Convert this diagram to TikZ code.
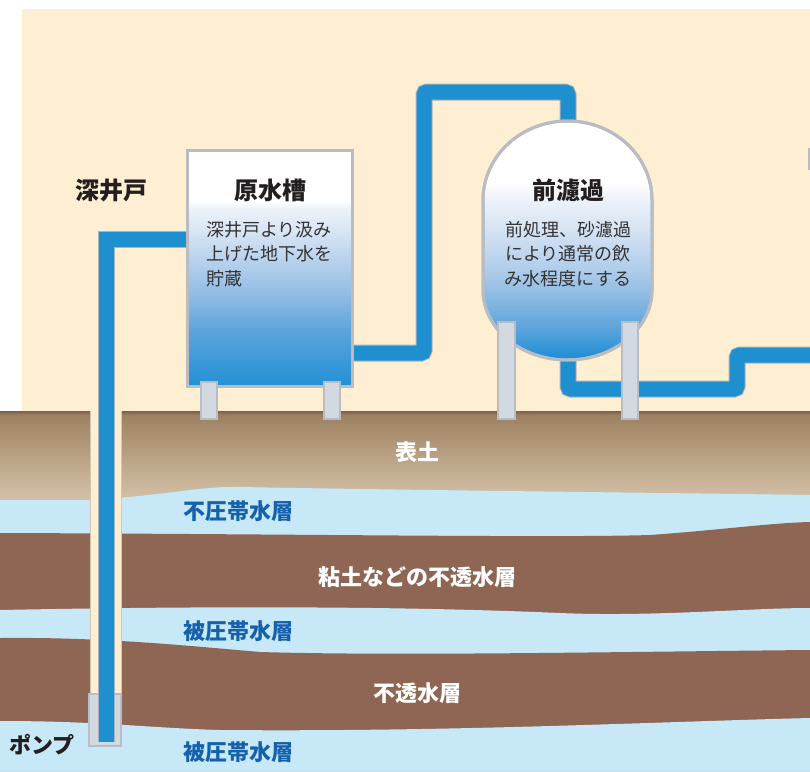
\documentclass[tikz,border=0pt]{standalone}
\usepackage{fontspec}
\newfontfamily\jp{Noto Sans CJK JP}

% palette
\definecolor{sky}{HTML}{FEEFD3}
\definecolor{aqua}{HTML}{C6E8F7}
\definecolor{clay}{HTML}{8F6654}
\definecolor{pipeblue}{HTML}{1E90D0}
\definecolor{pipeedge}{HTML}{A7B3BF}
\definecolor{steel}{HTML}{B9BDC3}
\definecolor{legfill}{HTML}{D3D9E0}
\definecolor{layerblue}{HTML}{1561AB}
\definecolor{ink}{HTML}{231F20}
\definecolor{notetext}{HTML}{333333}
\definecolor{casingedge}{HTML}{D2C6B4}

% vessel gradients (white top, blue bottom)
\definecolor{va}{HTML}{2291D5}
\definecolor{vb}{HTML}{5AA3DC}
\definecolor{vc}{HTML}{8AB9E3}
\definecolor{vd}{HTML}{B0CDEB}
\definecolor{ve}{HTML}{D5E3F3}
\definecolor{vf}{HTML}{EEF3FA}
\pgfdeclareverticalshading{tankshade}{100bp}{color(0bp)=(va); color(25bp)=(va);
  color(36.5bp)=(vb); color(43.4bp)=(vc); color(50.3bp)=(vd); color(57.4bp)=(ve);
  color(62.9bp)=(vf); color(64.3bp)=(white); color(100bp)=(white)}
\pgfdeclareverticalshading{domeshade}{100bp}{color(0bp)=(va); color(26bp)=(va);
  color(31.3bp)=(vb); color(38bp)=(vc); color(44bp)=(vd); color(52.2bp)=(ve);
  color(59bp)=(vf); color(62bp)=(white); color(100bp)=(white)}

% topsoil gradient
\definecolor{sa}{HTML}{7D6247}
\definecolor{sb}{HTML}{9C8062}
\definecolor{sc}{HTML}{A98E6F}
\definecolor{sd}{HTML}{C4AE92}
\definecolor{se}{HTML}{D6C4AB}
\pgfdeclareverticalshading{soilshade}{100bp}{color(0bp)=(se); color(25bp)=(se);
  color(41.9bp)=(sd); color(64.3bp)=(sc); color(72.8bp)=(sb); color(75bp)=(sa);
  color(100bp)=(sa)}

\tikzset{
  pipe/.style={preaction={draw=pipeedge, line width=17pt},
    draw=pipeblue, line width=15pt, rounded corners=3pt},
  vessel/.style={draw=steel, line width=3pt},
  support/.style={fill=legfill, draw=steel, line width=2pt},
  header/.style={font=\jp\bfseries\fontsize{24}{26}\selectfont, text=ink, inner sep=0pt},
  note/.style={font=\jp\fontsize{18}{24.5}\selectfont, text=notetext, inner sep=0pt},
  layer/.style={font=\jp\bfseries\fontsize{22}{24}\selectfont, inner sep=0pt},
}

\begin{document}
\begin{tikzpicture}[x=1pt, y=-1pt]
\useasboundingbox (0,0) rectangle (810,771);
\fill[white] (0,0) rectangle (810,771);

% sky above ground
\fill[sky] (22,9) rectangle (810,411);
% edge of the next unit at the right border
\fill[steel] (807.5,148) rectangle (810,170);

% ground strata
\shade[shading=soilshade] (0,411) rectangle (810,505);
\fill[aqua] (0,500) -- (90,500) .. controls (170,495) and (200,486) .. (240,487)
  .. controls (400,490) and (600,492) .. (810,495) -- (810,771) -- (0,771) -- cycle;
\fill[clay] (0,533) .. controls (300,534) and (550,538) .. (650,535)
  .. controls (720,530) and (770,523) .. (810,522) -- (810,771) -- (0,771) -- cycle;
\fill[aqua] (0,610) .. controls (200,606) and (400,606) .. (560,613)
  .. controls (650,617) and (750,608) .. (810,608) -- (810,771) -- (0,771) -- cycle;
\fill[clay] (0,638) .. controls (100,637) and (180,645) .. (260,652)
  .. controls (400,656) and (600,652) .. (810,650) -- (810,771) -- (0,771) -- cycle;
\fill[aqua] (0,721) .. controls (100,721) and (150,728) .. (220,730)
  .. controls (450,732) and (650,722) .. (810,718) -- (810,771) -- (0,771) -- cycle;

% well casing and pump
\fill[sky] (90,411) rectangle (121,693);
\draw[casingedge, line width=0.8pt] (90,411) -- (90,693) (121,411) -- (121,693);
\node[support, minimum width=32pt, minimum height=52pt, inner sep=0pt] (pump) at (105,720) {};

% raw water tank
\node[vessel, shading=tankshade, minimum width=165pt, minimum height=236pt, inner sep=0pt]
  (tank) at (270,268.5) {};

% pipes
\coordinate (filtertop) at (568,130);
\coordinate (filterbot) at (568,350);
\coordinate (wellbend) at (106,239);
\coordinate (wellfoot) at (106,742);
\draw[draw=pipeedge, line width=17pt] (tank.west |- wellbend) -- (97.5,239);
\draw[draw=pipeedge, line width=17pt] (wellbend) ++(0,-8.5) -- (wellfoot);
\draw[draw=pipeblue, line width=15pt] (tank.west |- wellbend) -- (98.5,239);
\draw[draw=pipeblue, line width=15pt] (wellbend) ++(0,-7.5) -- (wellfoot);
\draw[pipe] (tank.east |- 0,353) -- (424,353) |- (568,92) -- (filtertop);
\draw[pipe] (filterbot) -- (568,389) -- (737,389) -- (737,355) -- (813,355);

% pre-filter vessel
\path[vessel, shading=domeshade] (483,200)
  .. controls (483,156.4) and (520.8,121) .. (567.5,121)
  .. controls (614.2,121) and (652,156.4) .. (652,200)
  -- (652,290)
  .. controls (652,328.7) and (614.2,360) .. (567.5,360)
  .. controls (520.8,360) and (483,328.7) .. (483,290) -- cycle;
\draw[vessel] (483,200)
  .. controls (483,156.4) and (520.8,121) .. (567.5,121)
  .. controls (614.2,121) and (652,156.4) .. (652,200)
  -- (652,290)
  .. controls (652,328.7) and (614.2,360) .. (567.5,360)
  .. controls (520.8,360) and (483,328.7) .. (483,290) -- cycle;

% supports
\draw[support] (201,382) rectangle (217,419);
\draw[support] (324,382) rectangle (340,419);
\draw[support] (498,322) rectangle (515,419);
\draw[support] (622,322) rectangle (638,419);

% labels above ground
\node[header] (wellname) at (111,190) {深井戸};
\node[header] (tankname) at (270,190) {原水槽};
\node[header] (filtername) at (568,190) {前濾過};
\node[note, anchor=west, align=left] (tanknote) at (206,254)
  {深井戸より汲み\\上げた地下水を\\貯蔵};
\node[note, align=center] (filternote) at (568,254)
  {前処理、砂濾過\\により通常の飲\\み水程度にする};

% strata labels
\node[layer, text=white] (l1) at (417,452) {表土};
\node[layer, text=layerblue] (l2) at (238,511) {不圧帯水層};
\node[layer, text=white] (l3) at (417,577) {粘土などの不透水層};
\node[layer, text=layerblue] (l4) at (238,631) {被圧帯水層};
\node[layer, text=white] (l5) at (417,693) {不透水層};
\node[layer, text=layerblue] (l6) at (238,752) {被圧帯水層};
\node[layer, text=ink] (pumpname) at (42,745) {ポンプ};
\end{tikzpicture}
\end{document}
